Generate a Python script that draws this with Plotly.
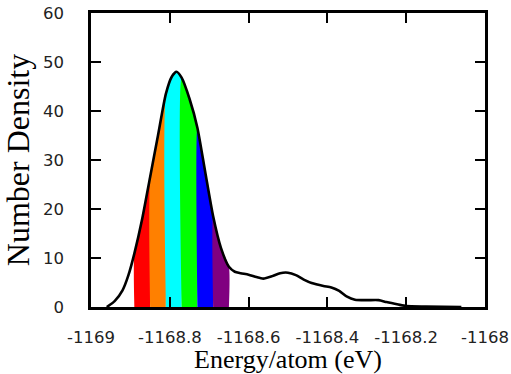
import plotly.graph_objects as go

# Curve (energy per atom vs number density)
energy = [-1168.96, -1168.94, -1168.92, -1168.905, -1168.89, -1168.87, -1168.85,
          -1168.83, -1168.81, -1168.795, -1168.783, -1168.77, -1168.75, -1168.73,
          -1168.71, -1168.69, -1168.67, -1168.65, -1168.635, -1168.62, -1168.60,
          -1168.58, -1168.563, -1168.54, -1168.52, -1168.50, -1168.48, -1168.46,
          -1168.44, -1168.41, -1168.39, -1168.37, -1168.35, -1168.33, -1168.30,
          -1168.27, -1168.25, -1168.22, -1168.20, -1168.15, -1168.06]
density = [0.0, 1.2, 3.4, 6.5, 10.9, 18.0, 26.5,
           35.0, 43.5, 47.0, 48.0, 46.8, 42.5, 36.6,
           27.5, 18.5, 12.0, 8.2, 7.2, 6.9, 6.6,
           6.1, 5.8, 6.3, 6.9, 7.0, 6.5, 5.6,
           4.9, 4.3, 4.0, 3.3, 2.1, 1.5, 1.4,
           1.4, 1.0, 0.5, 0.2, 0.1, 0.0]

# Coloured bands under the curve
band_bounds = [-1168.89, -1168.85, -1168.81, -1168.77, -1168.73, -1168.69, -1168.65]
band_colors = ["#ff0000", "#ff8000", "#00ffff", "#00ff00", "#0000ff", "#800080"]

x_tickvals = [-1169, -1168.8, -1168.6, -1168.4, -1168.2, -1168]
x_ticktext = ["-1169", "-1168.8", "-1168.6", "-1168.4", "-1168.2", "-1168"]
y_tickvals = [0, 10, 20, 30, 40, 50, 60]

fig = go.Figure()

for i, col in enumerate(band_colors):
    lo, hi = band_bounds[i], band_bounds[i + 1]
    idx = [k for k, e in enumerate(energy) if lo - 1e-9 <= e <= hi + 1e-9]
    xs = [energy[k] for k in idx]
    ys = [density[k] for k in idx]
    fig.add_trace(go.Scatter(
        x=[xs[0]] + xs + [xs[-1]], y=[0] + ys + [0],
        mode="lines", fill="toself", fillcolor=col,
        line=dict(width=0, color=col, shape="spline", smoothing=0.6),
        hoverinfo="skip", showlegend=False))

fig.add_trace(go.Scatter(
    x=energy, y=density, mode="lines",
    line=dict(color="black", width=2.6, shape="spline", smoothing=0.6),
    showlegend=False))

axis_common = dict(
    showline=True, linecolor="black", linewidth=2.5, mirror="ticks",
    ticks="inside", ticklen=10, tickwidth=2, tickcolor="black",
    showgrid=False, zeroline=False, automargin=False,
    ticklabeloverflow="allow",
    tickfont=dict(family="DejaVu Sans", size=16.5, color="#222"),
)

fig.update_layout(
    width=511, height=374,
    margin=dict(l=91.3, r=26.2, t=12.5, b=67.3),
    plot_bgcolor="white", paper_bgcolor="white",
    xaxis=dict(range=[-1169, -1168], tickvals=x_tickvals, ticktext=x_ticktext,
               ticklabelstandoff=13,
               title=dict(text="Energy/atom (eV)",
                          font=dict(family="Liberation Serif", size=26, color="black"),
                          standoff=9),
               **axis_common),
    yaxis=dict(range=[0, 60], tickvals=y_tickvals,
               ticklabelstandoff=21,
               title=dict(text="Number Density",
                          font=dict(family="Liberation Serif", size=32, color="black"),
                          standoff=14),
               **axis_common),
)

fig.write_html("out.html",
               config={"displayModeBar": False},
               post_script="document.body.style.margin='0';")
